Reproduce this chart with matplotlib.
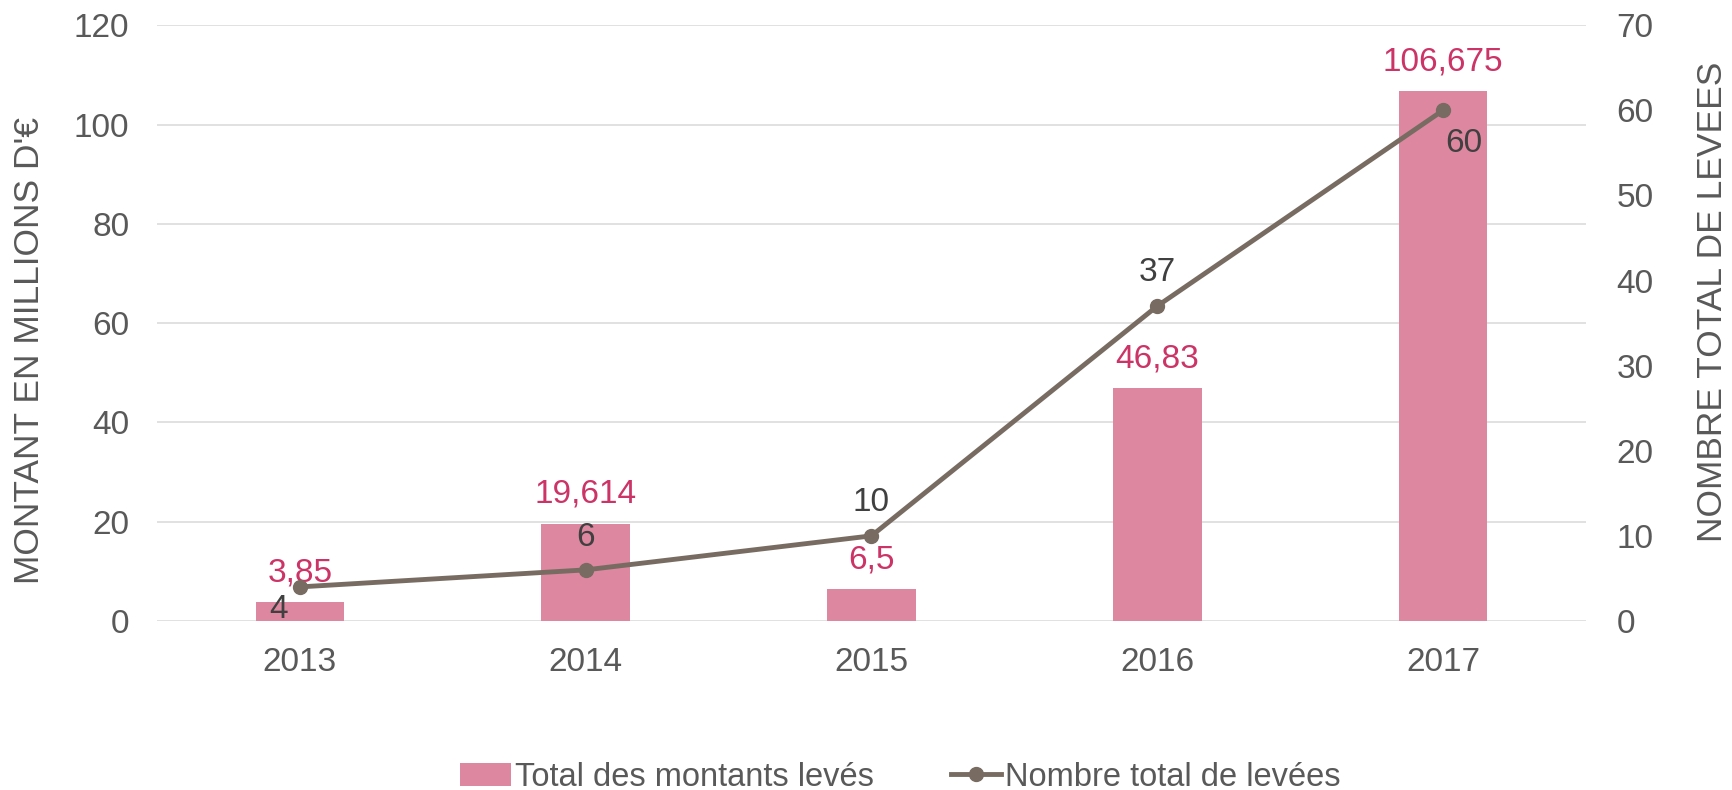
import numpy as np
import matplotlib.pyplot as plt
from matplotlib.patches import Patch
from matplotlib.lines import Line2D

years = ['2013', '2014', '2015', '2016', '2017']
montants = [3.85, 19.614, 6.5, 46.83, 106.675]
montant_labels = ['3,85', '19,614', '6,5', '46,83', '106,675']
levees = [4, 6, 10, 37, 60]

pink = '#DE87A0'
pink_txt = '#CC3366'
line_col = '#786C62'
grey = '#595959'
dark = '#404040'

plt.rcParams['font.family'] = ['Liberation Sans', 'DejaVu Sans']

fig = plt.figure(figsize=(17.33, 7.9), dpi=100)
ax = fig.add_axes([0.0906, 0.214, 0.8245, 0.754])
ax2 = ax.twinx()

x = np.arange(len(years))
ax.bar(x, montants, width=0.31, color=pink, zorder=2)
ax.set_ylim(0, 120)
ax.set_yticks(range(0, 121, 20))
ax.set_xlim(-0.5, 4.5)
ax.set_xticks(x)
ax.set_xticklabels(years)
ax.grid(axis='y', color='#D9D9D9', linewidth=1.1, zorder=0)
ax.set_axisbelow(True)

ax2.plot(x, levees, color=line_col, linewidth=3.5, marker='o', markersize=10, zorder=3)
ax2.set_ylim(0, 70)
ax2.set_yticks(range(0, 71, 10))

for a in (ax, ax2):
    for s in a.spines.values():
        s.set_visible(False)
    a.tick_params(length=0, labelsize=24, labelcolor=grey)
ax.tick_params(axis='y', pad=20)
ax.tick_params(axis='x', pad=19)
ax2.tick_params(axis='y', pad=22)

# bar values
for xi, v, lab in zip(x, montants, montant_labels):
    ax.annotate(lab, (xi, v), xytext=(0, 21), textcoords='offset points',
                ha='center', va='center', fontsize=24, color=pink_txt)

# line values
offsets = [(-15, -16), (0, 23), (0, 24), (0, 24), (15, -24)]
for xi, v, off in zip(x, levees, offsets):
    ax2.annotate(str(v), (xi, v), xytext=off, textcoords='offset points',
                 ha='center', va='center', fontsize=24, color=dark, zorder=4)

fig.text(30 / 1733, 1 - 350 / 790, "MONTANT EN MILLIONS D'€", rotation=90,
         ha='center', va='center', fontsize=25.5, color=grey)
fig.text(1713 / 1733, 1 - 302 / 790, "NOMBRE TOTAL DE LEVEES", rotation=90,
         ha='center', va='center', fontsize=25.5, color=grey)

handles = [Patch(facecolor=pink, edgecolor='none'),
           Line2D([], [], color=line_col, linewidth=3.5, marker='o', markersize=10)]
fig.legend(handles, ['Total des montants levés', 'Nombre total de levées'],
           loc='center', bbox_to_anchor=(0.5196, 1 - 777 / 790), ncol=2, frameon=False,
           fontsize=23.5, labelcolor=grey, handlelength=1.56, handletextpad=0.12,
           columnspacing=2.35, handleheight=0.7)

fig.savefig('out.png', dpi=100)
